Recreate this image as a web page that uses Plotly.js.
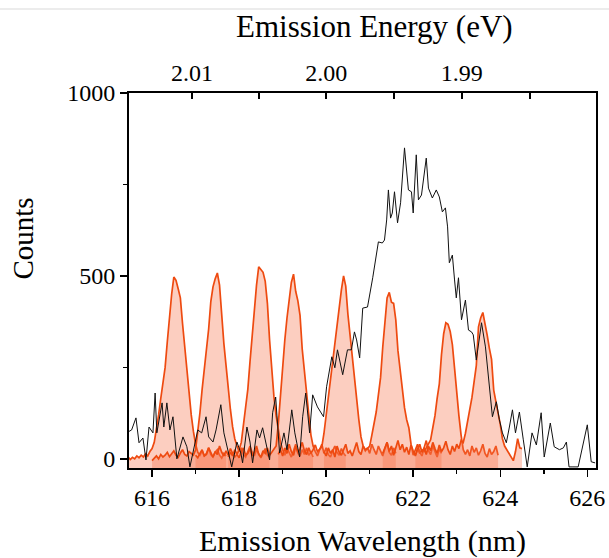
<!DOCTYPE html>
<html>
<head>
<meta charset="utf-8">
<script src="https://cdn.plot.ly/plotly-3.0.1.min.js"></script>
<style>html,body{margin:0;padding:0;background:#fff;}#chart{width:609px;height:558px;}</style>
</head>
<body>
<div id="chart"></div>
<script>
// ---------------- data ----------------
// Broad (black) spectrum: wavelength (nm) and counts
const blackX = [615.47,615.53,615.63,615.70,615.79,615.86,615.93,616.02,616.07,616.11,616.23,616.27,616.34,616.41,616.48,616.57,616.71,616.80,616.87,616.96,
617.05,617.14,617.24,617.30,617.40,617.47,617.58,617.65,617.72,617.83,617.95,618.04,618.08,618.18,618.25,618.31,618.41,618.47,618.54,618.64,
618.70,618.77,618.84,618.93,619.03,619.10,619.21,619.28,619.39,619.46,619.53,619.62,619.69,619.80,619.94,620.01,620.13,620.20,620.26,620.38,
620.49,620.58,620.65,620.70,620.77,620.84,620.95,621.07,621.14,621.20,621.29,621.34,621.39,621.43,621.48,621.52,621.57,621.64,621.71,621.80,
621.89,621.96,622.00,622.07,622.12,622.19,622.30,622.35,622.44,622.53,622.60,622.67,622.74,622.79,622.83,622.90,622.95,622.99,623.04,623.11,
623.20,623.27,623.34,623.38,623.45,623.57,623.66,623.73,623.82,623.91,623.98,624.05,624.14,624.21,624.28,624.35,624.44,624.53,624.62,624.73,
624.83,624.94,625.01,625.15,625.24,625.36,625.45,625.52,625.58,625.65,625.79,626.00,626.09,626.18];
const blackY = [75,79,112,44,57,-3,87,71,180,71,153,87,153,79,115,0,60,33,-22,33,
79,71,115,60,46,79,148,71,38,-22,46,16,-11,87,46,-11,79,57,85,33,
-3,126,169,16,71,25,134,71,5,115,180,71,175,142,115,197,279,249,298,230,
298,298,347,325,276,412,415,495,544,593,590,598,653,735,658,672,730,645,700,850,
735,730,672,831,708,721,822,740,713,735,716,675,686,634,536,557,489,440,495,380,
434,352,347,339,270,372,306,224,115,156,107,71,44,87,134,71,128,52,-22,71,
38,126,5,98,33,25,30,46,-22,-22,-22,93,-8,-11];

// Narrow (orange) spectra: first wavelength of each (nm), sampling step (nm), counts
const specStart = [615.00, 616.00, 617.00, 617.75, 618.90, 619.95, 621.30, 622.05];
const specStep = 0.05;
const spec1 = [5,10,2,8,0,6,12,3,0,5,-2,4,0,8,3,10,5,14,8,20,
28,45,80,120,165,205,250,320,395,450,497,488,465,440,370,305,235,172,120,75,
40,18,10,22,8,15,30,12,5,18,25,10,2,15,8];
const spec2 = [-5,2,8,0,12,5,10,18,6,14,22,10,4,16,25,12,8,20,15,10,
25,70,126,190,245,300,355,430,470,492,508,475,390,315,255,190,135,88,55,35,
20,30,12,5,20,35,18,8,25,12,3,15,28,10,5];
const spec3 = [10,3,15,25,8,12,30,15,5,20,12,35,18,8,22,10,28,15,5,12,
25,45,90,135,190,265,340,415,475,525,518,510,485,425,325,240,170,118,80,45,
25,10,30,18,5,22,40,15,8,25,12,30,10,18,5];
const spec4 = [5,18,8,25,12,3,20,30,10,15,28,8,18,35,12,5,22,15,30,10,
18,25,35,95,175,250,325,385,430,482,505,458,432,392,300,235,182,122,65,35,
20,8,25,40,15,30,12,5,22,35,18,10,28,15,8];
const spec5 = [12,25,8,30,15,40,20,10,35,18,28,45,22,12,30,15,25,38,20,28,
33,70,120,168,210,260,325,375,415,462,500,472,395,335,270,215,168,108,60,35,
22,30,15,40,25,12,35,20,8,28,45,18,10,30,15];
const spec6 = [20,8,30,15,25,5,35,18,10,28,40,15,22,8,30,45,20,12,35,25,
28,35,65,95,128,175,222,305,385,440,455,428,425,380,295,238,182,140,107,85,
40,10,25,40,18,8,30,50,22,12,35,20,5,28,15];
const spec7 = [15,30,45,20,35,10,28,50,25,40,18,32,12,38,22,8,30,15,25,20,
30,40,52,85,118,165,205,285,342,372,368,348,312,248,178,118,65,25,12,25,
8,35,18,30,10,22,40,15,5,28,12,20,35,10];
const spec8 = [10,25,40,18,30,12,35,22,45,28,15,38,20,30,48,25,12,35,20,40,
28,50,45,70,100,128,168,212,255,361,385,400,372,338,302,272,188,152,125,95,
55,35,25,15,8,-5,20,55,30,28];
const specY = [spec1, spec2, spec3, spec4, spec5, spec6, spec7, spec8];

// Axes
const xRange = [615.47, 626.2];
const yRange = [-25, 1000];
const yTicks = [0, 500, 1000];
const yMinorTicks = [250, 750];
const energyTicks = [2.01, 2.005, 2.00, 1.995, 1.99, 1.985];
const energyLabels = ['2.01', '', '2.00', '', '1.99', ''];
const hcNmEv = 1240; // wavelength (nm) = 1240 / energy (eV)

// ---------------- styling ----------------
const FONT = 'Liberation Serif, "Times New Roman", Times, serif';
const ORANGE = '#EE4A10';
const FILL = 'rgba(246,110,70,0.34)';

const traces = [];
specY.forEach((ys, k) => {
  const xs = ys.map((_, i) => +(specStart[k] + i * specStep).toFixed(3));
  // baseline at the bottom of the axis so the fill reaches the frame
  traces.push({
    x: [xs[0], xs[xs.length - 1]], y: [yRange[0], yRange[0]],
    mode: 'lines', line: {width: 0, color: 'rgba(0,0,0,0)'},
    hoverinfo: 'skip', showlegend: false
  });
  traces.push({
    x: xs, y: ys, mode: 'lines', fill: 'tonexty', fillcolor: FILL,
    line: {color: ORANGE, width: 1.7}, showlegend: false
  });
});
traces.push({
  x: blackX, y: blackY, mode: 'lines',
  line: {color: '#111', width: 1}, showlegend: false
});
// carrier for the top (energy) axis
traces.push({x: [], y: [], xaxis: 'x2', yaxis: 'y', hoverinfo: 'skip', showlegend: false});

const axisCommon = {
  showgrid: false, zeroline: false, showline: true,
  linecolor: '#000', linewidth: 2, tickcolor: '#000', tickwidth: 1.5,
  tickfont: {family: FONT, size: 24, color: '#000'}
};

const layout = {
  width: 609, height: 558,
  margin: {l: 129, r: 13, t: 93, b: 90},
  paper_bgcolor: '#fff', plot_bgcolor: '#fff',
  showlegend: false,
  font: {family: FONT, size: 24, color: '#000'},
  xaxis: Object.assign({}, axisCommon, {
    range: xRange, tickmode: 'linear', tick0: 616, dtick: 2,
    ticks: 'outside', ticklen: 7,
    minor: {tick0: 616, dtick: 1, ticks: 'outside', ticklen: 4, tickwidth: 1.5, tickcolor: '#000', showgrid: false},
    title: {text: 'Emission Wavelength (nm)', font: {family: FONT, size: 30, color: '#000'}, standoff: 20}
  }),
  xaxis2: Object.assign({}, axisCommon, {
    overlaying: 'x', side: 'top', anchor: 'y', range: xRange,
    tickmode: 'array',
    tickvals: energyTicks.map(e => hcNmEv / e),
    ticktext: energyLabels,
    ticks: 'inside', ticklen: 6
  }),
  yaxis: Object.assign({}, axisCommon, {
    range: yRange, tickmode: 'array', tickvals: yTicks,
    ticks: 'outside', ticklen: 7, mirror: true,
    minor: {tickmode: 'array', tickvals: yMinorTicks, ticks: 'outside', ticklen: 4, tickwidth: 1.5, tickcolor: '#000', showgrid: false}
  }),
  annotations: [{
    text: 'Counts', textangle: -90, showarrow: false,
    xref: 'paper', yref: 'paper', x: -0.226, y: 0.613,
    xanchor: 'center', yanchor: 'middle',
    font: {family: FONT, size: 29, color: '#000'}
  }, {
    text: 'Emission Energy (eV)', showarrow: false,
    xref: 'paper', yref: 'paper', x: 0.525, y: 1.178,
    xanchor: 'center', yanchor: 'middle',
    font: {family: FONT, size: 31, color: '#000'}
  }],
  shapes: [{
    type: 'line', xref: 'paper', yref: 'paper',
    x0: -0.3, x1: 1.05, y0: 1.224, y1: 1.224,
    line: {color: '#d9d9d9', width: 1}
  }]
};

Plotly.newPlot('chart', traces, layout, {displayModeBar: false, staticPlot: true});
</script>
</body>
</html>
